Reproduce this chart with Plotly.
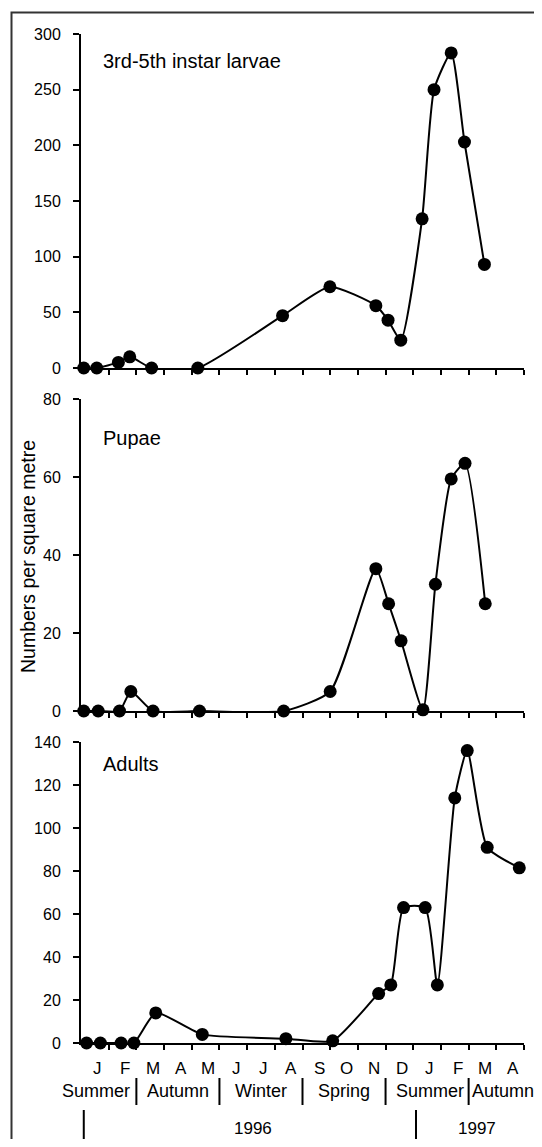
import plotly.graph_objects as go

# ---- data (x in months since 1 Jan 1996) ----
larvae_x = [0.1, 0.57, 1.35, 1.76, 2.55, 4.22, 7.28, 8.99, 10.65, 11.09, 11.55, 12.32, 12.75, 13.37, 13.85, 14.57]
larvae_y = [0, 0, 5, 10, 0, 0, 47, 73, 56, 43, 25, 134, 250, 283, 203, 93]

pupae_x = [0.1, 0.62, 1.39, 1.8, 2.6, 4.28, 7.32, 9.0, 10.65, 11.11, 11.56, 12.35, 12.8, 13.37, 13.87, 14.6]
pupae_y = [0, 0, 0, 5, 0, 0, 0, 5, 36.5, 27.5, 18, 0.3, 32.5, 59.5, 63.5, 27.5]

adults_x = [0.2, 0.7, 1.45, 1.91, 2.7, 4.38, 7.4, 9.09, 10.75, 11.19, 11.65, 12.43, 12.87, 13.5, 13.95, 14.67, 15.83]
adults_y = [0, 0, 0, 0, 14, 4, 2, 1, 23, 27, 63, 63, 27, 114, 136, 91, 81.5]

panel_titles = ["3rd-5th instar larvae", "Pupae", "Adults"]
month_labels = ["J", "F", "M", "A", "M", "J", "J", "A", "S", "O", "N", "D", "J", "F", "M", "A"]
season_labels = ["Summer", "Autumn", "Winter", "Spring", "Summer", "Autumn"]
season_centers = [0.55, 3.5, 6.5, 9.5, 12.6, 15.25]
season_bounds = [2, 5, 8, 11, 14]
year_labels = ["1996", "1997"]
year_centers = [6.2, 14.3]
year_bounds = [0.1, 12.1]
y_ranges = [300, 80, 140]
y_dticks = [50, 20, 20]

FONT = "Liberation Sans, Arial, Helvetica, sans-serif"

OFF = 8  # default body margin of the html page
W, H = 542 - 2 * OFF, 1147 - 2 * OFF   # keep the page inside the window (no scrollbars)
AX_L, AX_R = 81, 524          # screen px of x-axis ends
AX_TOP, AX_BOT = 34, 1043     # screen px of top of first panel / bottom axis
L = AX_L - OFF
R = W - (AX_R - OFF)
T = AX_TOP - OFF
B = H - (AX_BOT - OFF)
ph = AX_BOT - AX_TOP
pw = AX_R - AX_L


def py(px):
    return (AX_BOT - px) / ph


def px_(x):
    return (x - AX_L) / pw


fig = go.Figure()
series = [(larvae_x, larvae_y), (pupae_x, pupae_y), (adults_x, adults_y)]
for i, (xs, ys) in enumerate(series):
    ax = "" if i == 0 else str(i + 1)
    fig.add_trace(go.Scatter(
        x=xs, y=ys, mode="lines+markers",
        line=dict(color="black", width=2, shape="spline", smoothing=0.55),
        marker=dict(color="black", size=13),
        cliponaxis=False, showlegend=False,
        xaxis="x" + ax, yaxis="y" + ax,
    ))

domains = [[py(368), 1.0], [py(711), py(399)], [0.0, py(742)]]
for i in range(3):
    ax = "" if i == 0 else str(i + 1)
    fig.layout["xaxis" + ax] = dict(
        range=[0, 16], domain=[0, 1], anchor="y" + ax,
        showline=True, linecolor="black", linewidth=2,
        ticks="outside", tickvals=list(range(1, 17)), ticklen=5, tickwidth=1.5,
        tickcolor="black", showticklabels=False, showgrid=False, zeroline=False,
        fixedrange=True,
    )
    fig.layout["yaxis" + ax] = dict(
        range=[0, y_ranges[i]], domain=domains[i], anchor="x" + ax,
        dtick=y_dticks[i], tick0=0,
        showline=True, linecolor="black", linewidth=2,
        ticks="outside", ticklen=6, tickwidth=1.5, tickcolor="black",
        ticklabelstandoff=9,
        showgrid=False, zeroline=False,
        tickfont=dict(family=FONT, size=16, color="black"),
    )

annotations = []
shapes = []

# panel titles
title_y = [61, 438, 764]
for t, yy in zip(panel_titles, title_y):
    annotations.append(dict(text=t, xref="paper", yref="paper", x=px_(101), y=py(yy),
                            xanchor="left", yanchor="middle", showarrow=False,
                            font=dict(family=FONT, size=20, color="black")))

# y axis title
annotations.append(dict(text="Numbers per square metre", xref="paper", yref="paper",
                        x=px_(28), y=py(557), textangle=-90,
                        xanchor="center", yanchor="middle", showarrow=False,
                        font=dict(family=FONT, size=19.5, color="black")))

# month labels
for k, m in enumerate(month_labels):
    annotations.append(dict(text=m, xref="x3", yref="paper", x=k + 0.6, y=py(1068),
                            xanchor="center", yanchor="middle", showarrow=False,
                            font=dict(family=FONT, size=17, color="black")))

for s, c in zip(season_labels, season_centers):
    annotations.append(dict(text=s, xref="x3", yref="paper", x=c, y=py(1091),
                            xanchor="center", yanchor="middle", showarrow=False,
                            font=dict(family=FONT, size=18, color="black")))
for b in season_bounds:
    shapes.append(dict(type="line", xref="x3", yref="paper", x0=b, x1=b, y0=py(1078), y1=py(1105),
                       line=dict(color="black", width=2)))

for s, c in zip(year_labels, year_centers):
    annotations.append(dict(text=s, xref="x3", yref="paper", x=c, y=py(1128),
                            xanchor="center", yanchor="middle", showarrow=False,
                            font=dict(family=FONT, size=17, color="black")))
for b in year_bounds:
    shapes.append(dict(type="line", xref="x3", yref="paper", x0=b, x1=b, y0=py(1110), y1=py(1139),
                       line=dict(color="black", width=2)))

# outer frame
shapes.append(dict(type="rect", xref="paper", yref="paper",
                   x0=px_(11.5), x1=1.3, y0=-0.3, y1=py(12.5),
                   line=dict(color="#333333", width=2), fillcolor="rgba(0,0,0,0)", layer="below"))

fig.update_layout(
    width=W, height=H, margin=dict(l=L, r=R, t=T, b=B, autoexpand=False),
    paper_bgcolor="white", plot_bgcolor="white",
    annotations=annotations, shapes=shapes,
    font=dict(family=FONT, color="black"),
)

fig.write_html("out.html")
